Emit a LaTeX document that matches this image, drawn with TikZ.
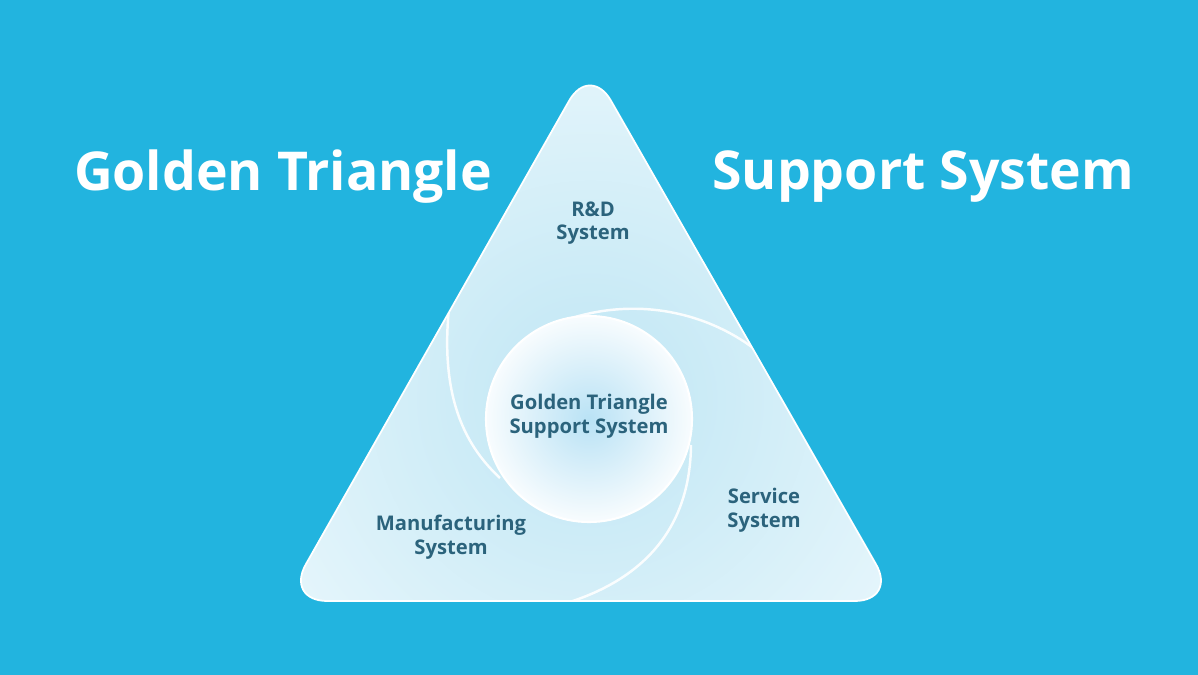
\documentclass[tikz,border=0pt]{standalone}
\usepackage{fontspec}
\setmainfont{Open Sans}
\definecolor{bg}{HTML}{22B4DF}
\definecolor{lab}{HTML}{2B637C}
\definecolor{tri}{HTML}{BFE6F4}
\definecolor{edge}{HTML}{EEF9FD}
\definecolor{circ}{HTML}{B9E2F5}
\tikzset{title/.style={text=white,font=\fontsize{30.5}{34}\selectfont\bfseries},
 lbl/.style={text=lab,font=\fontsize{11.5}{13.5}\selectfont\bfseries,align=center},
 swirl/.style={draw=white,line width=1.4pt,opacity=0.9}}
\begin{document}
\begin{tikzpicture}[x=0.02cm,y=-0.02cm]
\useasboundingbox (0,0) rectangle (1198,675);
\fill[bg] (0,0) rectangle (1198,675);
\coordinate (A) at (590,64);
\coordinate (B) at (285,601);
\coordinate (C) at (897,601);
\begin{scope}
\clip[rounded corners=24] (A) -- (C) -- (B) -- cycle;
\shade[inner color=tri,outer color=edge] (590,400) circle[radius=440];
\coordinate (s1a) at (452,285);
\coordinate (s1b) at (500,478);
\coordinate (s2a) at (560,322);
\coordinate (s2b) at (800,400);
\coordinate (s3a) at (691,445);
\coordinate (s3b) at (560,605);
\draw[swirl] (s1a) .. controls (434,400) and (470,450) .. (s1b);
\draw[swirl] (s2a) .. controls (660,285) and (760,330) .. (s2b);
\draw[swirl] (s3a) .. controls (690,540) and (630,585) .. (s3b);
\end{scope}
\draw[white,line width=1pt,rounded corners=24] (A) -- (C) -- (B) -- cycle;
\shade[inner color=circ,outer color=white!90!circ] (589,419) circle[radius=103];
\draw[white,line width=1.2pt] (589,419) circle[radius=103];
\node[title] (t1) at (283,177) {Golden Triangle};
\node[title] (t2) at (923,177) {Support System};
\node[lbl] (rd) at (593,223) {R\&D\\System};
\node[lbl] (gt) at (589,416) {Golden Triangle\\Support System};
\node[lbl] (mf) at (451,537) {Manufacturing\\System};
\node[lbl] (sv) at (764,510) {Service\\System};
\end{tikzpicture}
\end{document}
